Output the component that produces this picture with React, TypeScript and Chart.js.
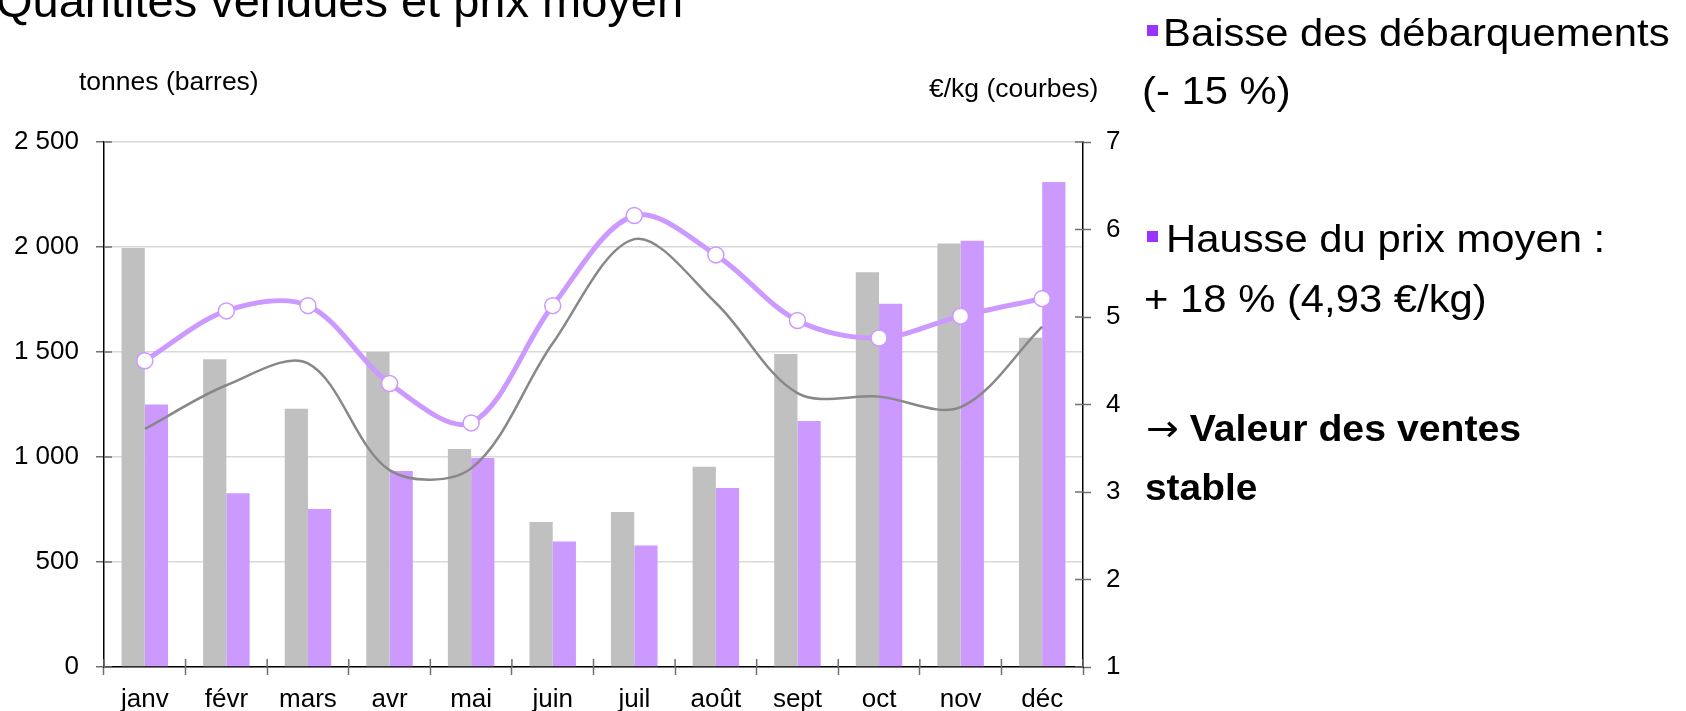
import React, { useEffect, useRef } from 'react';
import { Chart, registerables } from 'chart.js';

Chart.register(...registerables);

// ---- data ----
const months = ['janv', 'févr', 'mars', 'avr', 'mai', 'juin', 'juil', 'août', 'sept', 'oct', 'nov', 'déc'];
const tonnesPrev = [1995, 1465, 1230, 1500, 1038, 690, 738, 954, 1490, 1880, 2017, 1568];
const tonnesCurr = [1250, 827, 752, 933, 995, 598, 579, 852, 1171, 1730, 2030, 2310];
const pricePrev = [3.72, 4.22, 4.47, 3.25, 3.27, 4.7, 5.89, 5.16, 4.13, 4.09, 3.97, 4.89];
const priceCurr = [4.5, 5.07, 5.13, 4.24, 3.79, 5.13, 6.16, 5.71, 4.96, 4.76, 5.01, 5.21];
const leftTicks = [0, 500, 1000, 1500, 2000, 2500];
const rightTicks = [1, 2, 3, 4, 5, 6, 7];

const FONT = '"Liberation Sans", Arial, Helvetica, sans-serif';
const GRAY_BAR = '#C0C0C0';
const PURPLE = '#CC99FF';
const GRAY_LINE = '#888888';
const TICK_COLOR = '#707070';

const fmtTonnes = (v: number) =>
  v >= 1000 ? `${Math.floor(v / 1000)} ${String(v % 1000).padStart(3, '0')}` : String(v);

// inner half of "cross" tick marks (Excel style)
const crossTicks = {
  id: 'crossTicks',
  afterDraw(chart: any) {
    const { ctx, chartArea, scales } = chart;
    const x = scales.x;
    const y = scales.y;
    const y1 = scales.y1;
    const len = 8;
    ctx.save();
    ctx.strokeStyle = TICK_COLOR;
    ctx.lineWidth = 1.5;
    ctx.beginPath();
    const n = months.length;
    const step = x.getPixelForValue(1) - x.getPixelForValue(0);
    for (let i = 0; i <= n; i++) {
      const px = x.getPixelForValue(0) - step / 2 + i * step;
      ctx.moveTo(px, chartArea.bottom);
      ctx.lineTo(px, chartArea.bottom - len);
    }
    leftTicks.forEach((v) => {
      const py = y.getPixelForValue(v);
      ctx.moveTo(chartArea.left, py);
      ctx.lineTo(chartArea.left + len, py);
    });
    rightTicks.forEach((v) => {
      const py = y1.getPixelForValue(v);
      ctx.moveTo(chartArea.right, py);
      ctx.lineTo(chartArea.right - len, py);
    });
    ctx.stroke();
    ctx.restore();
  },
};

function Txt(props: {
  left: number;
  baseline: number;
  size: number;
  bold?: boolean;
  scaleX?: number;
  children: React.ReactNode;
}) {
  const { left, baseline, size, bold, scaleX = 1, children } = props;
  return (
    <div
      style={{
        position: 'absolute',
        left,
        top: baseline - 0.8465 * size,
        fontFamily: FONT,
        fontSize: size,
        lineHeight: `${size}px`,
        fontWeight: bold ? 'bold' : 'normal',
        whiteSpace: 'nowrap',
        color: '#000',
        transform: `scaleX(${scaleX})`,
        transformOrigin: 'left center',
      }}
    >
      {children}
    </div>
  );
}

function Bullet(props: { left: number; top: number }) {
  return (
    <div
      style={{
        position: 'absolute',
        left: props.left,
        top: props.top,
        width: 11,
        height: 11,
        background: '#9933FF',
      }}
    />
  );
}

export default function App() {
  const canvasRef = useRef<HTMLCanvasElement | null>(null);

  useEffect(() => {
    if (!canvasRef.current) return;
    Chart.defaults.font.family = FONT;
    Chart.defaults.font.size = 26;
    Chart.defaults.color = '#000';

    const chart = new Chart(canvasRef.current, {
      type: 'bar',
      data: {
        labels: months,
        datasets: [
          {
            type: 'line',
            label: 'Prix moyen (année en cours)',
            data: priceCurr,
            yAxisID: 'y1',
            borderColor: PURPLE,
            borderWidth: 5,
            tension: 0.33,
            pointRadius: 8,
            pointBackgroundColor: '#FFFFFF',
            pointBorderColor: PURPLE,
            pointBorderWidth: 1.5,
            order: 0,
          } as any,
          {
            type: 'line',
            label: 'Prix moyen (année précédente)',
            data: pricePrev,
            yAxisID: 'y1',
            borderColor: GRAY_LINE,
            borderWidth: 2.5,
            tension: 0.33,
            pointRadius: 0,
            order: 1,
          } as any,
          {
            type: 'bar',
            label: 'Tonnes (année précédente)',
            data: tonnesPrev,
            yAxisID: 'y',
            backgroundColor: GRAY_BAR,
            borderWidth: 0,
            categoryPercentage: 0.57,
            barPercentage: 1,
            order: 2,
          } as any,
          {
            type: 'bar',
            label: 'Tonnes (année en cours)',
            data: tonnesCurr,
            yAxisID: 'y',
            backgroundColor: PURPLE,
            borderWidth: 0,
            categoryPercentage: 0.57,
            barPercentage: 1,
            order: 2,
          } as any,
        ],
      },
      options: {
        animation: false,
        responsive: false,
        events: [],
        layout: { padding: { top: 142, right: 543, bottom: 0, left: 0 } },
        plugins: {
          legend: { display: false },
          tooltip: { enabled: false },
          title: { display: false },
        },
        scales: {
          x: {
            offset: true,
            grid: {
              offset: true,
              drawOnChartArea: false,
              drawTicks: true,
              tickLength: 8,
              tickColor: TICK_COLOR,
              tickWidth: 1.5,
            },
            border: { display: true, color: '#000', width: 1.5 },
            ticks: {
              color: '#000',
              font: { size: 26, family: FONT },
              padding: 9,
              maxRotation: 0,
              autoSkip: false,
            },
            afterFit: (s: any) => {
              s.height = 44;
            },
          },
          y: {
            position: 'left',
            min: 0,
            max: 2500,
            afterBuildTicks: (s: any) => {
              s.ticks = leftTicks.map((v) => ({ value: v }));
            },
            grid: {
              color: '#D9D9D9',
              lineWidth: 1.5,
              drawTicks: true,
              tickLength: 8,
              tickColor: TICK_COLOR,
              tickWidth: 1.5,
            },
            border: { display: true, color: '#000', width: 1.5 },
            ticks: {
              callback: (v: any) => fmtTonnes(Number(v)),
              padding: 17,
              color: '#000',
              font: { size: 26, family: FONT },
            },
            afterFit: (s: any) => {
              s.width = 104;
            },
          },
          y1: {
            position: 'right',
            min: 1,
            max: 7,
            afterBuildTicks: (s: any) => {
              s.ticks = rightTicks.map((v) => ({ value: v }));
            },
            grid: {
              drawOnChartArea: false,
              drawTicks: true,
              tickLength: 8,
              tickColor: TICK_COLOR,
              tickWidth: 1.5,
            },
            border: { display: true, color: '#000', width: 1.5 },
            ticks: {
              padding: 15,
              color: '#000',
              font: { size: 26, family: FONT },
            },
            afterFit: (s: any) => {
              s.width = 60;
            },
          },
        },
      } as any,
      plugins: [crossTicks as any],
    });

    return () => {
      chart.destroy();
    };
  }, []);

  return (
    <div
      style={{
        position: 'absolute',
        left: 0,
        top: 0,
        width: 1686,
        height: 711,
        overflow: 'hidden',
        background: '#FFFFFF',
      }}
    >
      <canvas
        ref={canvasRef}
        width={1686}
        height={711}
        style={{ position: 'absolute', left: 0, top: 0, width: 1686, height: 711 }}
      />
      <Txt left={-4} baseline={17} size={47}>
        Quantités vendues et prix moyen
      </Txt>
      <Txt left={79} baseline={90} size={26.5}>
        tonnes (barres)
      </Txt>
      <Txt left={929} baseline={97} size={26.5}>
        €/kg (courbes)
      </Txt>

      <Bullet left={1147} top={25} />
      <Txt left={1163} baseline={46} size={38} scaleX={1.1}>
        Baisse des débarquements
      </Txt>
      <Txt left={1142} baseline={104} size={38} scaleX={1.1}>
        (- 15 %)
      </Txt>
      <Bullet left={1147} top={231} />
      <Txt left={1166} baseline={252} size={38} scaleX={1.1}>
        Hausse du prix moyen :
      </Txt>
      <Txt left={1144} baseline={312} size={38} scaleX={1.1}>
        + 18 % (4,93 €/kg)
      </Txt>
      <Txt left={1146} baseline={441} size={37} bold scaleX={1.06}>
        <span style={{ fontWeight: 'normal', fontFamily: '"DejaVu Sans", sans-serif' }}>→</span> Valeur des ventes
      </Txt>
      <Txt left={1145} baseline={500} size={37} bold scaleX={1.05}>
        stable
      </Txt>
    </div>
  );
}
